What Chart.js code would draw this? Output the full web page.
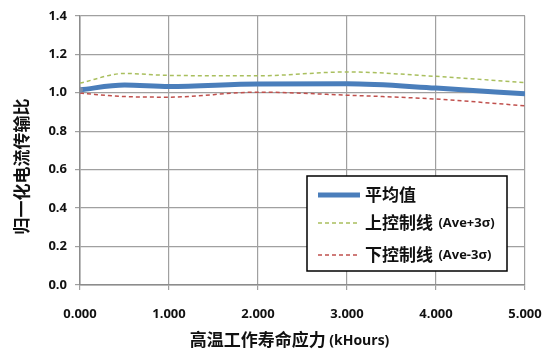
<!DOCTYPE html>
<html>
<head>
<meta charset="utf-8">
<script src="https://cdn.jsdelivr.net/npm/chart.js@4"></script>
<style>
  html, body { margin: 0; padding: 0; background: #fff; }
  #wrap { width: 545px; height: 359px; }
</style>
</head>
<body>
<div id="wrap"><canvas id="chart"></canvas></div>
<script>
// hours in kHours
const hours = [0, 0.5, 1, 2, 3, 4, 5];
const meanValues = [1.015, 1.04, 1.032, 1.045, 1.046, 1.024, 0.994];
const upperValues = [1.05, 1.1, 1.09, 1.088, 1.108, 1.085, 1.053];
const lowerValues = [0.998, 0.98, 0.977, 1.003, 0.987, 0.967, 0.932];
const xTicks = [0, 1, 2, 3, 4, 5];
const yTicks = [0, 0.2, 0.4, 0.6, 0.8, 1.0, 1.2, 1.4];

const seriesNames = ["平均值", "上控制线", "下控制线"];
const seriesSuffix = ["", "(Ave+3σ)", "(Ave-3σ)"];
const xTitle = ["高温工作寿命应力", "(kHours)"];
const yTitle = "归一化电流传输比";

const latin = "'Open Sans', 'Liberation Sans', sans-serif";
const cjk = "'Noto Sans CJK SC', sans-serif";

const toPoints = (vals) => vals.map((v, i) => ({ x: hours[i], y: v }));

// legend drawn inside the plot area, like the original
const boxLegend = {
  id: "boxLegend",
  afterDraw(chart) {
    const { ctx, chartArea } = chart;
    const w = 200, h = 95;
    const x0 = chartArea.right - 18 - w;
    const y0 = chartArea.bottom - 14 - h;
    ctx.save();
    ctx.fillStyle = "#fff";
    ctx.fillRect(x0, y0, w, h);
    ctx.strokeStyle = "#000";
    ctx.lineWidth = 1.5;
    ctx.strokeRect(x0, y0, w, h);
    const rows = [19, 47, 79];
    chart.data.datasets.forEach((ds, i) => {
      const y = y0 + rows[i];
      ctx.beginPath();
      ctx.strokeStyle = ds.borderColor;
      ctx.lineWidth = ds.borderWidth;
      ctx.setLineDash(ds.borderDash || []);
      ctx.moveTo(x0 + 11, y);
      ctx.lineTo(x0 + 53, y);
      ctx.stroke();
      ctx.setLineDash([]);
      ctx.fillStyle = "#111";
      ctx.textBaseline = "middle";
      ctx.font = "bold 17px " + cjk;
      ctx.fillText(seriesNames[i], x0 + 58, y);
      if (seriesSuffix[i]) {
        const tw = ctx.measureText(seriesNames[i]).width;
        ctx.font = "bold 13px " + latin;
        ctx.fillText(" " + seriesSuffix[i], x0 + 60 + tw, y);
      }
    });
    ctx.restore();
  }
};

// axis titles with mixed fonts, placed like the original
const axisTitles = {
  id: "axisTitles",
  afterDraw(chart) {
    const { ctx, chartArea } = chart;
    ctx.save();
    ctx.fillStyle = "#111";
    ctx.textBaseline = "middle";

    // x title
    ctx.font = "bold 17px " + cjk;
    const w1 = ctx.measureText(xTitle[0]).width;
    ctx.font = "bold 14px " + latin;
    const w2 = ctx.measureText(" " + xTitle[1]).width;
    const cx = (chartArea.left + chartArea.right) / 2 - 13;
    const xs = cx - (w1 + w2) / 2;
    const ty = chartArea.bottom + 55;
    ctx.font = "bold 17px " + cjk;
    ctx.fillText(xTitle[0], xs, ty);
    ctx.font = "bold 14px " + latin;
    ctx.fillText(" " + xTitle[1], xs + w1, ty + 1);

    // y title
    ctx.translate(22, (chartArea.top + chartArea.bottom) / 2 + 16);
    ctx.rotate(-Math.PI / 2);
    ctx.textAlign = "center";
    ctx.font = "bold 17px " + cjk;
    ctx.fillText(yTitle, 0, 0);
    ctx.restore();
  }
};

new Chart(document.getElementById("chart"), {
  type: "line",
  data: {
    datasets: [
      {
        label: seriesNames[0],
        data: toPoints(meanValues),
        borderColor: "#4a7ebb",
        borderWidth: 5,
        pointRadius: (c) => (c.dataIndex === 0 ? 3 : 0),
        pointBackgroundColor: "#7d8ea8",
        pointBorderWidth: 0,
        cubicInterpolationMode: "monotone"
      },
      {
        label: seriesNames[1],
        data: toPoints(upperValues),
        borderColor: "#a9bf5e",
        borderWidth: 1.5,
        borderDash: [4, 3],
        pointRadius: 0,
        cubicInterpolationMode: "monotone"
      },
      {
        label: seriesNames[2],
        data: toPoints(lowerValues),
        borderColor: "#c0504d",
        borderWidth: 1.5,
        borderDash: [4, 3],
        pointRadius: 0,
        cubicInterpolationMode: "monotone"
      }
    ]
  },
  options: {
    responsive: true,
    maintainAspectRatio: false,
    animation: false,
    layout: { padding: { top: 10, right: 20, left: 0, bottom: 0 } },
    plugins: {
      legend: { display: false },
      tooltip: { enabled: false }
    },
    scales: {
      x: {
        type: "linear",
        min: 0,
        max: 5,
        afterBuildTicks: (axis) => { axis.ticks = xTicks.map((v) => ({ value: v })); },
        afterFit: (axis) => {
          axis.height = 74;
          axis.paddingLeft = 0;
          axis.paddingRight = 0;
        },
        grid: { color: "#a0a0a0", lineWidth: 1.2, tickLength: 5, drawTicks: true },
        border: { color: "#8c8c8c", width: 1.5 },
        ticks: {
          padding: 16,
          color: "#111",
          font: { family: latin, size: 13, weight: "bold" },
          callback: (v) => v.toFixed(3)
        }
      },
      y: {
        min: 0,
        max: 1.4,
        afterBuildTicks: (axis) => { axis.ticks = yTicks.map((v) => ({ value: v })); },
        afterFit: (axis) => { axis.width = 80; },
        grid: { color: "#a0a0a0", lineWidth: 1.2, tickLength: 5 },
        border: { color: "#8c8c8c", width: 1.5 },
        ticks: {
          padding: 8,
          color: "#111",
          font: { family: latin, size: 13, weight: "bold" },
          callback: (v) => v.toFixed(1)
        }
      }
    }
  },
  plugins: [boxLegend, axisTitles]
});
</script>
</body>
</html>
